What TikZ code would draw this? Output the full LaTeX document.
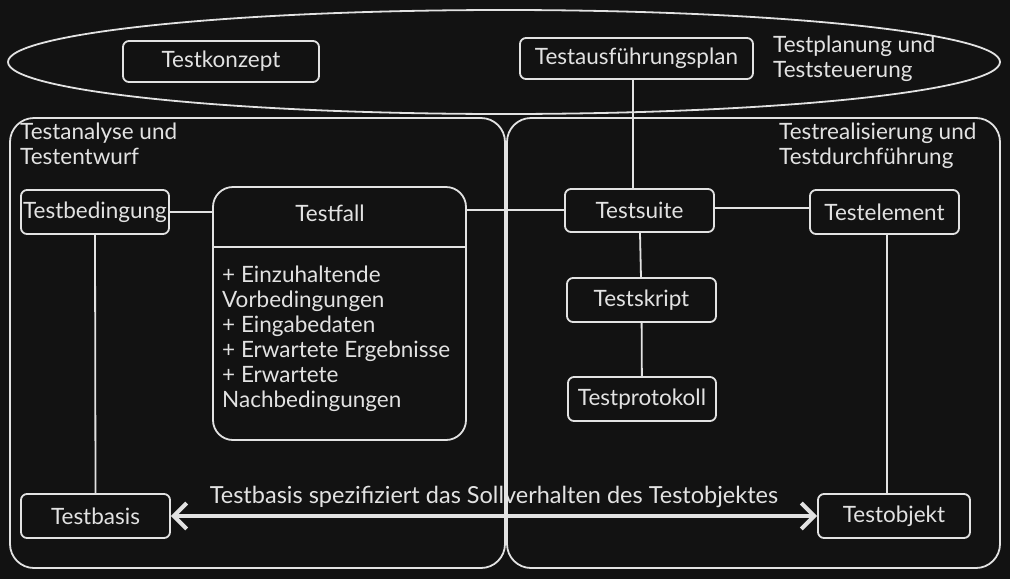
\documentclass[tikz,border=0pt]{standalone}
\usepackage{fontspec}
\setmainfont{Lato}
\usepackage{tikz}
\usetikzlibrary{arrows.meta}

\definecolor{bgdark}{HTML}{121212}
\definecolor{inkgray}{HTML}{E2E2E2}

\tikzset{
    box/.style={thick, draw=inkgray, line width=1.8pt, rounded corners=6pt, text=inkgray, font=\fontsize{22.5}{25}\selectfont, inner sep=0pt},
    region/.style={draw=inkgray, line width=1.8pt, rounded corners=24pt},
    caption/.style={text=inkgray, font=\fontsize{22.5}{25}\selectfont, align=left, inner sep=0pt},
    link/.style={draw=inkgray, line width=1.8pt},
    bigarrow/.style={draw=inkgray, line width=4pt, {Straight Barb[length=13pt, width=26pt]}-{Straight Barb[length=13pt, width=26pt]}}
}

\begin{document}
\begin{tikzpicture}[x=1pt, y=-1pt]
    \fill[bgdark] (0,0) rectangle (1010,579);
    \useasboundingbox (0,0) rectangle (1010,579);

    \draw[link] (504,62) ellipse [x radius=496, y radius=52];
    \draw[region] (10,118) rectangle (505,568);
    \draw[region] (507,118) rectangle (1000,568);

    \node[caption, anchor=north west] at (773,36) (planung) {Testplanung und\\Teststeuerung};
    \node[caption, anchor=north west] at (20,123) (analyse) {Testanalyse und\\Testentwurf};
    \node[caption, anchor=north west] at (779,123) (realisierung) {Testrealisierung und\\Testdurchführung};

    \node[box, minimum width=196pt, minimum height=41pt] at (221, 61.5) (konzept) {Testkonzept};
    \node[box, minimum width=233pt, minimum height=41pt] at (636.5, 58.5) (plan) {Testausführungsplan};

    \node[box, minimum width=148pt, minimum height=44pt] at (95, 212) (bedingung) {Testbedingung};
    \node[box, rounded corners=20pt, minimum width=253pt, minimum height=253pt] at (339.5, 313.5) (fall) {};
    \node[caption, anchor=center] at (330, 213) (falltitel) {Testfall};
    \node[caption, anchor=north west] at (222, 266) (fallinhalt) {+ Einzuhaltende\\Vorbedingungen\\+ Eingabedaten\\+ Erwartete Ergebnisse\\+ Erwartete\\Nachbedingungen};
    \node[box, minimum width=149pt, minimum height=43pt] at (639.5, 210.5) (suite) {Testsuite};
    \node[box, minimum width=149pt, minimum height=44pt] at (884.5, 212) (element) {Testelement};
    \node[box, minimum width=149pt, minimum height=44pt] at (641.5, 300) (skript) {Testskript};
    \node[box, minimum width=148pt, minimum height=44pt] at (642, 399) (protokoll) {Testprotokoll};
    \node[box, minimum width=149pt, minimum height=44pt] at (95.5, 516) (basis) {Testbasis};
    \node[box, minimum width=152pt, minimum height=44pt] at (894, 516) (objekt) {Testobjekt};

    \draw[link] (fall.west |- 0,247) -- (fall.east |- 0,247);

    \draw[link] (plan.south -| 633,0) -- (suite.north -| 633,0);
    \draw[link] (suite) -- (skript); \draw[link] (skript) -- (protokoll);
    \draw[link] (bedingung.east) -- (fall.west |- bedingung.east);
    \draw[link] (fall.east |- 0,210) -- (suite.west |- 0,210);
    \draw[link] (suite.east |- 0,208) -- (element.west |- 0,208);
    \draw[link] (bedingung.south) -- (basis.north);
    \draw[link] (element.south -| 887,0) -- (objekt.north -| 887,0);

    \draw[bigarrow] (basis.east) -- node[caption, above=6pt, font=\fontsize{23.5}{26}\selectfont] {Testbasis spezifiziert das Sollverhalten des Testobjektes} (objekt.west);
\end{tikzpicture}
\end{document}
